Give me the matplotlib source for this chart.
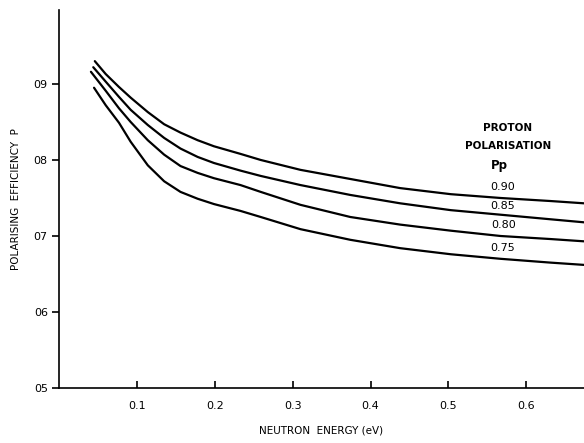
import matplotlib
matplotlib.use("Agg")
import matplotlib.pyplot as plt

# Data (energy in eV, polarising efficiency P)
e_common = [0.060, 0.077, 0.092, 0.114, 0.135, 0.156, 0.178, 0.199, 0.233, 0.259,
            0.310, 0.374, 0.438, 0.503, 0.567, 0.631, 0.674]

e_090 = [0.046] + e_common
p_090 = [0.930, 0.913, 0.896, 0.882, 0.863, 0.847, 0.836, 0.826, 0.818, 0.808, 0.800,
         0.787, 0.775, 0.763, 0.755, 0.750, 0.746, 0.743]

e_085 = [0.044] + e_common
p_085 = [0.922, 0.903, 0.883, 0.866, 0.846, 0.829, 0.815, 0.804, 0.796, 0.786, 0.779,
         0.767, 0.754, 0.743, 0.734, 0.728, 0.722, 0.718]

e_080 = [0.041] + e_common
p_080 = [0.916, 0.891, 0.868, 0.850, 0.826, 0.807, 0.792, 0.783, 0.776, 0.767, 0.758,
         0.741, 0.725, 0.715, 0.707, 0.700, 0.696, 0.693]

e_075 = [0.045] + e_common
p_075 = [0.895, 0.872, 0.849, 0.824, 0.793, 0.772, 0.758, 0.749, 0.742, 0.733, 0.725,
         0.709, 0.695, 0.684, 0.676, 0.670, 0.665, 0.662]

curve_labels = ["0.90", "0.85", "0.80", "0.75"]
label_pos = [(0.569, 0.764), (0.570, 0.740), (0.571, 0.714), (0.570, 0.684)]

x_ticks = [0.1, 0.2, 0.3, 0.4, 0.5, 0.6]
x_ticklabels = ["0.1", "0.2", "0.3", "0.4", "0.5", "0.6"]
y_ticks = [0.5, 0.6, 0.7, 0.8, 0.9]
y_ticklabels = ["05", "06", "07", "08", "09"]

plt.rcParams['font.family'] = ['DejaVu Sans']

fig = plt.figure(figsize=(5.84, 4.43), dpi=100)
ax = fig.add_axes([0.101, 0.124, 0.899, 0.853])

for e, p in [(e_090, p_090), (e_085, p_085), (e_080, p_080), (e_075, p_075)]:
    ax.plot(e, p, color="black", lw=1.6, solid_capstyle="round", solid_joinstyle="round")

ax.set_xlim(0, 0.674)
ax.set_ylim(0.5, 0.997)

ax.spines['top'].set_visible(False)
ax.spines['right'].set_visible(False)
ax.spines['left'].set_linewidth(1.2)
ax.spines['bottom'].set_linewidth(1.2)

ax.set_xticks(x_ticks)
ax.set_xticklabels(x_ticklabels)
ax.set_yticks(y_ticks)
ax.set_yticklabels(y_ticklabels)
ax.tick_params(axis='x', direction='in', length=5, width=1.2, labelsize=8, pad=9)
ax.tick_params(axis='y', direction='out', length=5, width=1.2, labelsize=8, pad=3)

ax.set_xlabel("NEUTRON  ENERGY (eV)", fontsize=7.5, labelpad=11)
ax.set_ylabel("POLARISING  EFFICIENCY  P", fontsize=7.5, labelpad=9)

ax.text(0.576, 0.842, "PROTON", ha="center", va="center", fontsize=7.5, fontweight="bold")
ax.text(0.577, 0.818, "POLARISATION", ha="center", va="center", fontsize=7.5, fontweight="bold")
ax.text(0.566, 0.793, "Pp", ha="center", va="center", fontsize=8.5, fontweight="bold")
for lab, (x, y) in zip(curve_labels, label_pos):
    ax.text(x, y, lab, ha="center", va="center", fontsize=8)

fig.savefig("out.png", dpi=100)
